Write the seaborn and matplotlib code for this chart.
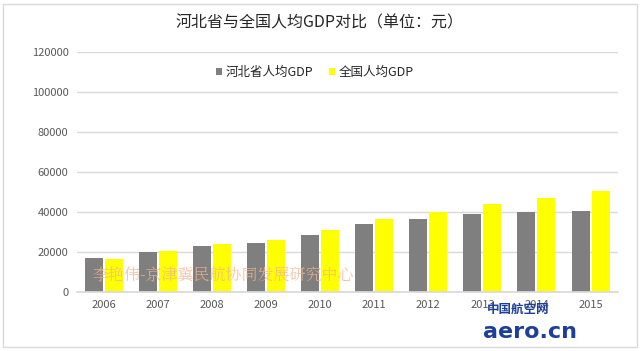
import pandas as pd
import matplotlib.pyplot as plt
import seaborn as sns
from matplotlib.patches import Rectangle

sns.set_theme(style="whitegrid")
plt.rcParams['font.family'] = ['Noto Sans CJK SC', 'DejaVu Sans']
plt.rcParams['axes.unicode_minus'] = False

# 数据（单位：元）
years = ['2006', '2007', '2008', '2009', '2010', '2011', '2012', '2013', '2014', '2015']
hebei = [16962, 19877, 22986, 24581, 28668, 33969, 36584, 38909, 39984, 40255]
china = [16738, 20505, 24121, 26222, 30876, 36403, 40007, 43852, 47203, 50251]
series = ['河北省人均GDP', '全国人均GDP']
colors = ['#7f7f7f', '#ffff00']

df = pd.DataFrame({
    'year': years * 2,
    'value': hebei + china,
    'series': [series[0]] * len(years) + [series[1]] * len(years),
})

fig = plt.figure(figsize=(6.4, 3.51), dpi=100)
ax = fig.add_axes([0.12, 0.168, 0.845, 0.684])

sns.barplot(data=df, x='year', y='value', hue='series', palette=colors,
            width=0.74, gap=0.1, ax=ax, saturation=1, linewidth=0,
            edgecolor='none')

ax.set_ylim(0, 120000)
ax.set_yticks(range(0, 120001, 20000))
ax.set_xlabel('')
ax.set_ylabel('')
ax.grid(axis='y', color='#d9d9d9', linewidth=1)
ax.grid(axis='x', visible=False)
for s in ['top', 'right', 'left']:
    ax.spines[s].set_visible(False)
ax.spines['bottom'].set_color('#d9d9d9')
ax.tick_params(axis='both', labelsize=8, colors='#595959', length=0, pad=6)
ax.set_facecolor('white')

ax.legend(loc='center', bbox_to_anchor=(0.44, 0.915), ncol=2, frameon=False,
          fontsize=9, handlelength=0.5, handleheight=0.5, columnspacing=1.2,
          handletextpad=0.3)

fig.text(0.5, 0.935, '河北省与全国人均GDP对比（单位：元）', ha='center', va='center',
         fontsize=11.5, color='#262626')

# 水印
fig.text(0.145, 0.215, '李艳伟-京津冀民航协同发展研究中心', fontsize=11.5,
         color='#f2b48f', alpha=0.8, va='center', family=['Noto Serif CJK SC', 'Noto Sans CJK SC'])
fig.text(0.76, 0.12, '中国航空网', fontsize=9, color='#1d3f9a',
         fontweight='bold', va='center')
fig.text(0.755, 0.055, 'aero.cn', fontsize=16, color='#1d3f9a',
         fontweight='bold', va='center', family=['DejaVu Sans'])

# 外框
fig.patches.append(Rectangle((0.005, 0.01), 0.99, 0.98, transform=fig.transFigure,
                             fill=False, edgecolor='#d9d9d9', linewidth=1))

fig.savefig('out.png', dpi=100)
